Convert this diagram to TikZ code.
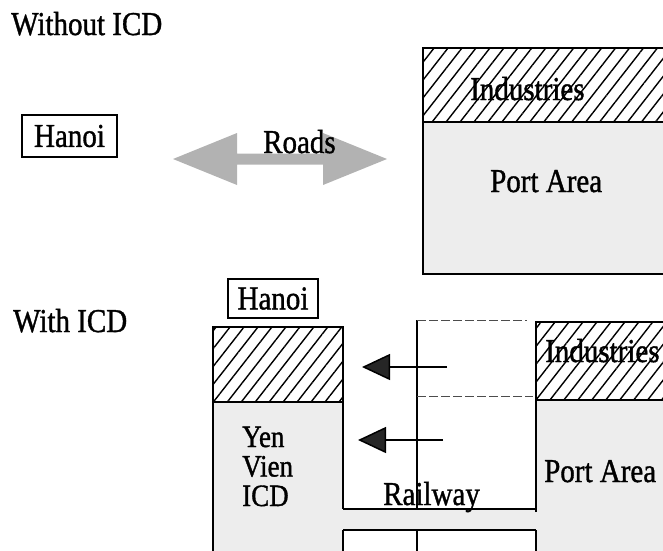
\documentclass[tikz,border=0pt]{standalone}
\usepackage{fontspec}
\setmainfont{Liberation Serif}
\newfontfamily\scanfont{Liberation Serif}[FakeBold=1.2]
\usepackage{graphicx}
\usetikzlibrary{patterns.meta,arrows.meta}
\newcommand{\stt}[1]{\scalebox{1}[1.15]{#1}}
\begin{document}
\begin{tikzpicture}[x=1pt,y=-1pt,
  lbl/.style={font=\scanfont\fontsize{29}{30}\selectfont, inner sep=0pt, anchor=base west},
  small/.style={font=\scanfont\fontsize{27}{28}\selectfont},
  border/.style={line width=2.4pt},
  thinline/.style={line width=1.5pt},
  faint/.style={line width=1pt, gray!60!black, dash pattern=on 9pt off 3pt},
  hatch/.style={pattern={Lines[angle=52,distance=11pt,line width=1.4pt]}},
  stip/.style={fill=black!7},
  hbox/.style={draw, line width=2.2pt, inner sep=0pt, font=\scanfont\fontsize{29}{30}\selectfont},
  fatarrow/.style={fill=gray!60},
  railarrow/.style={line width=1.5pt, -{Triangle[length=28pt,width=26pt,fill=black!85]}},
]
\useasboundingbox (0,0) rectangle (663,550);
\clip (0,0) rectangle (663,550);

% ---------- Without ICD ----------
\node[lbl] (tA) at (11,35) {\stt{Without ICD}};
\node[hbox, minimum width=95pt, minimum height=42pt] (hanoiA) at (69.5,136) {\stt{Hanoi}};

\fill[fatarrow] (173,159) -- (237,133) -- (237,153.5) -- (323,153.5) -- (323,133)
  -- (387,159) -- (323,185) -- (323,164.5) -- (237,164.5) -- (237,185) -- cycle;
\node[lbl] (roads) at (263,153) {\stt{Roads}};

\fill[stip] (423,122) rectangle (680,274);
\path[hatch] (423,48) rectangle (680,122);
\draw[border] (680,48) -- (423,48) -- (423,274) -- (680,274);
\draw[thinline] (423,122) -- (680,122);
\node[lbl] (indA) at (470,100) {\stt{Industries}};
\node[lbl] (portA) at (490,192) {\stt{Port Area}};

% ---------- With ICD ----------
\node[lbl] (tB) at (13,332) {\stt{With ICD}};
\node[hbox, minimum width=90pt, minimum height=39pt] (hanoiB) at (273,298.5) {\stt{Hanoi}};

\fill[stip] (213,402) rectangle (343,560);
\path[hatch] (213,327) rectangle (343,402);
\fill[stip] (343,509) rectangle (536,530);
\fill[stip] (536,400) rectangle (680,560);
\path[hatch] (536,322) rectangle (680,400);

\draw[border] (213,560) -- (213,327) -- (343,327) -- (343,509);
\draw[thinline] (343,509) -- (536,509);
\draw[border] (536,512) -- (536,322) -- (680,322);
\draw[thinline] (213,402) -- (343,402);
\draw[border] (536,400) -- (680,400);
\draw[border] (343,560) -- (343,530);
\draw[thinline] (343,530) -- (536,530);
\draw[border] (536,530) -- (536,560);
\draw[thinline] (417,320) -- (417,509);
\draw[thinline] (417,530) -- (417,560);
\draw[faint] (417,320) -- (527,320);
\draw[faint] (417,396) -- (533,396);

\coordinate (a1s) at (447,367);
\coordinate (a1e) at (362,367);
\coordinate (a2s) at (443,440);
\coordinate (a2e) at (358,440);
\draw[railarrow] (a1s) -- (a1e);
\draw[railarrow] (a2s) -- (a2e);

\node[lbl] (rail) at (383,505) {\stt{Railway}};
\node[lbl, small] (yen) at (242,447) {\stt{Yen}};
\node[lbl, small] (vien) at (242,476.5) {\stt{Vien}};
\node[lbl, small] (icd) at (242,506) {\stt{ICD}};
\node[lbl] (indB) at (545,362) {\stt{Industries}};
\node[lbl] (portB) at (544,482) {\stt{Port Area}};
\end{tikzpicture}
\end{document}
